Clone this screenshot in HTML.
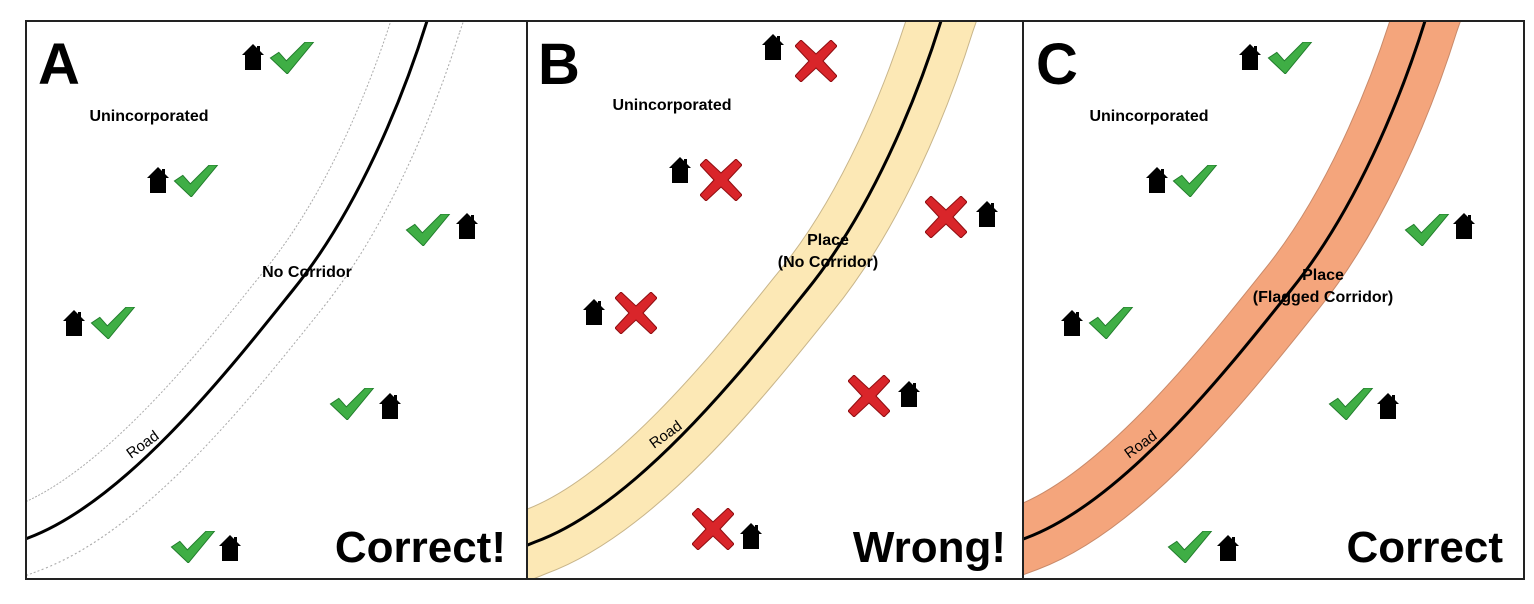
<!DOCTYPE html>
<html><head><meta charset="utf-8"><style>
html,body{margin:0;padding:0;background:#fff;}
svg{display:block;}
text{font-family:"Liberation Sans",Arial,sans-serif;}
</style></head><body>
<svg width="1534" height="604" viewBox="0 0 1534 604" xmlns="http://www.w3.org/2000/svg">
<defs>
<symbol id="h" viewBox="0 0 22 26"><path d="M11,0 L22,11 L19,11 L19,26 L3,26 L3,11 L0,11 Z M15,2 L18,2 L18,7 L15,4 Z" fill="#000"/></symbol>
<symbol id="c" viewBox="0 0 46 34"><path d="M0,17 L9,11 L17,20 L37,0 L46,0 L18,34 Z" fill="#3fae45" stroke="#1f7a2a" stroke-width="1"/></symbol>
<symbol id="x" viewBox="0 0 42 42"><path d="M6,0 L21,14 L36,0 L42,6 L28,21 L42,36 L36,42 L21,28 L6,42 L0,36 L14,21 L0,6 Z" fill="#d9252a" stroke="#8e0d10" stroke-width="1"/></symbol>
<path id="road" d="M414,-40 L400,0 C375,80 330,190 266,269 C205,345 100,480 1,517 L-58,539"/>
<path id="roadB" d="M428,-40 L414,0 C389,80 344,190 280,269 C219,345 110,484 8,521 L-58,548"/>
<clipPath id="pa"><rect x="0" y="0" width="500" height="558"/></clipPath>
</defs>

<!-- Panel A -->
<g transform="translate(27,21)">
<g clip-path="url(#pa)">
<use href="#road" fill="none" stroke="#aaa" stroke-width="70" stroke-dasharray="2,2"/>
<use href="#road" fill="none" stroke="#fff" stroke-width="68"/>
<use href="#road" fill="none" stroke="#000" stroke-width="3"/>
</g>
</g>
<!-- Panel B -->
<g transform="translate(527,21)">
<g clip-path="url(#pa)">
<use href="#roadB" fill="none" stroke="#c8b58a" stroke-width="68"/>
<use href="#roadB" fill="none" stroke="#fce8b5" stroke-width="66"/>
<use href="#roadB" fill="none" stroke="#000" stroke-width="3"/>
</g>
</g>
<!-- Panel C -->
<g transform="translate(1023,21)">
<g clip-path="url(#pa)">
<g transform="translate(2,0)">
<use href="#road" fill="none" stroke="#c98a6a" stroke-width="68"/>
<use href="#road" fill="none" stroke="#f4a57c" stroke-width="66"/>
<use href="#road" fill="none" stroke="#000" stroke-width="3"/>
</g>
</g>
</g>

<!-- frames -->
<rect x="26" y="21" width="1498" height="558" fill="none" stroke="#222" stroke-width="2"/>
<line x1="527" y1="21" x2="527" y2="579" stroke="#222" stroke-width="2"/>
<line x1="1023" y1="21" x2="1023" y2="579" stroke="#222" stroke-width="2"/>

<!-- Letters -->
<g font-weight="bold" fill="#000">
<text x="38" y="84" font-size="58">A</text>
<text x="538" y="84" font-size="58">B</text>
<text x="1036" y="84" font-size="58">C</text>
<g font-size="16" text-anchor="middle">
<text x="149" y="121">Unincorporated</text>
<text x="307" y="277">No Corridor</text>
<text x="672" y="110">Unincorporated</text>
<text x="828" y="245">Place</text>
<text x="828" y="267">(No Corridor)</text>
<text x="1149" y="121">Unincorporated</text>
<text x="1323" y="280">Place</text>
<text x="1323" y="302">(Flagged Corridor)</text>
</g>
<g font-size="44" text-anchor="end">
<text x="506" y="562">Correct!</text>
<text x="1006" y="562">Wrong!</text>
<text x="1503" y="562">Correct</text>
</g>
</g>
<g font-size="15" fill="#000">
<text transform="translate(131,459) rotate(-36)">Road</text>
<text transform="translate(654,449) rotate(-36)">Road</text>
<text transform="translate(1129,459) rotate(-36)">Road</text>
</g>

<!-- icons A -->
<use href="#h" x="242" y="44" width="22" height="26"/><use href="#c" x="269" y="42" width="46" height="32"/>
<use href="#h" x="147" y="167" width="22" height="26"/><use href="#c" x="173" y="165" width="46" height="32"/>
<use href="#c" x="405" y="214" width="46" height="32"/><use href="#h" x="456" y="213" width="22" height="26"/>
<use href="#h" x="63" y="310" width="22" height="26"/><use href="#c" x="90" y="307" width="46" height="32"/>
<use href="#c" x="329" y="388" width="46" height="32"/><use href="#h" x="379" y="393" width="22" height="26"/>
<use href="#c" x="170" y="531" width="46" height="32"/><use href="#h" x="219" y="535" width="22" height="26"/>
<!-- icons B -->
<use href="#h" x="762" y="34" width="22" height="26"/><use href="#x" x="795" y="40" width="42" height="42"/>
<use href="#h" x="669" y="157" width="22" height="26"/><use href="#x" x="700" y="159" width="42" height="42"/>
<use href="#x" x="925" y="196" width="42" height="42"/><use href="#h" x="976" y="201" width="22" height="26"/>
<use href="#h" x="583" y="299" width="22" height="26"/><use href="#x" x="615" y="292" width="42" height="42"/>
<use href="#x" x="848" y="375" width="42" height="42"/><use href="#h" x="898" y="381" width="22" height="26"/>
<use href="#x" x="692" y="508" width="42" height="42"/><use href="#h" x="740" y="523" width="22" height="26"/>
<!-- icons C -->
<use href="#h" x="1239" y="44" width="22" height="26"/><use href="#c" x="1267" y="42" width="46" height="32"/>
<use href="#h" x="1146" y="167" width="22" height="26"/><use href="#c" x="1172" y="165" width="46" height="32"/>
<use href="#c" x="1404" y="214" width="46" height="32"/><use href="#h" x="1453" y="213" width="22" height="26"/>
<use href="#h" x="1061" y="310" width="22" height="26"/><use href="#c" x="1088" y="307" width="46" height="32"/>
<use href="#c" x="1328" y="388" width="46" height="32"/><use href="#h" x="1377" y="393" width="22" height="26"/>
<use href="#c" x="1167" y="531" width="46" height="32"/><use href="#h" x="1217" y="535" width="22" height="26"/>
</svg>
</body></html>
